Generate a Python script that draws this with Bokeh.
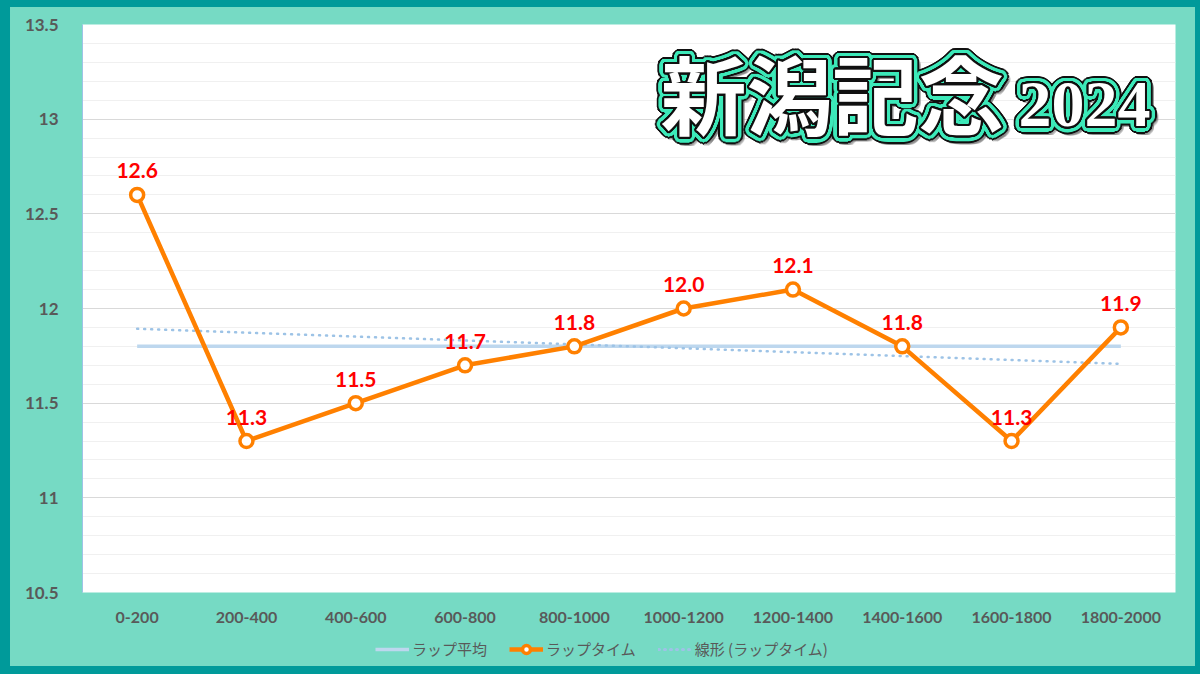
import numpy as np
from bokeh.plotting import figure
from bokeh.layouts import column
from bokeh.models import ColumnDataSource, FactorRange, FixedTicker, Legend, LegendItem, Range1d
from bokeh.core.properties import value
from bokeh.embed import file_html
from bokeh.resources import INLINE

# --- data ---
sections = ["0-200", "200-400", "400-600", "600-800", "800-1000",
            "1000-1200", "1200-1400", "1400-1600", "1600-1800", "1800-2000"]
lap_times = [12.6, 11.3, 11.5, 11.7, 11.8, 12.0, 12.1, 11.8, 11.3, 11.9]
y_ticks = [10.5, 11, 11.5, 12, 12.5, 13, 13.5]
series_names = ["ラップ平均", "ラップタイム", "線形 (ラップタイム)"]
title_main = "新潟記念"
title_year = "2024"

# average and linear trend, the way the spreadsheet derives them
lap_avg = float(np.mean(lap_times))
slope, intercept = np.polyfit(np.arange(len(lap_times)), lap_times, 1)
trend_ends = [intercept, intercept + slope * (len(lap_times) - 1)]

TEAL_LIGHT = "#76DAC4"
TEAL_DARK = "#009A9A"
GREY_TXT = "#595959"

AVG_STYLE = dict(line_color="#BDD7EE", line_width=3.5)
TREND_STYLE = dict(line_color="#9DC3E6", line_width=2.5, line_dash="1 6", line_cap="round")
LAP_STYLE = dict(line_color="#FF8000", line_width=4.5, line_join="round")
PT_STYLE = dict(size=13, fill_color="white", line_color="#FF8000", line_width=3.5)

# figures are border-box: the dark frame eats into width/height
p = figure(width=1200, height=630,
           x_range=FactorRange(factors=sections, range_padding=0),
           y_range=(10.5, 13.5),
           output_backend="svg", toolbar_location=None,
           min_border_left=72, min_border_right=35,
           min_border_top=17, min_border_bottom=45,
           background_fill_color="white", border_fill_color=TEAL_LIGHT,
           outline_line_color=None)
p.styles = {"border-style": "solid", "border-color": TEAL_DARK,
            "border-width": "7px 5px 0px 10px", "background-color": TEAL_LIGHT}

# axes / grid
p.yaxis.ticker = FixedTicker(ticks=y_ticks,
                             minor_ticks=[round(10.5 + 0.1 * i, 2) for i in range(31)])
p.yaxis.major_label_overrides = {t: f"{t:g}" for t in y_ticks}
p.yaxis.axis_line_color = "#9DC3E6"
p.xaxis.axis_line_color = None
for ax in (p.xaxis, p.yaxis):
    ax.major_tick_line_color = None
    ax.minor_tick_line_color = None
    ax.major_label_text_color = GREY_TXT
    ax.major_label_text_font = "Lato"
    ax.major_label_text_font_style = "bold"
p.yaxis.major_label_text_font_size = "17px"
p.yaxis.major_label_standoff = 18
p.xaxis.major_label_text_font_size = "16px"
p.xaxis.major_label_standoff = 13
p.xgrid.grid_line_color = None
p.ygrid.grid_line_color = "#D9D9D9"
p.ygrid.minor_grid_line_color = "#F0F0F0"

# series
p.line(x=[sections[0], sections[-1]], y=[lap_avg, lap_avg], **AVG_STYLE)
p.line(x=[sections[0], sections[-1]], y=trend_ends, **TREND_STYLE)
p.line(sections, lap_times, **LAP_STYLE)
p.scatter(sections, lap_times, **PT_STYLE)
p.text(x=sections, y=lap_times, text=[f"{v:.1f}" for v in lap_times],
       y_offset=-24, text_align="center", text_baseline="middle",
       text_color="#FF0000", text_font=value("Lato"), text_font_style="bold",
       text_font_size="21px")


# title: layered copies give the outlined, glowing lettering
def title_layer(txt, x0, y0, font, size, baseline, color, radius, alpha=1.0, shift=(0, 0)):
    n = 1 if radius == 0 else 32
    ang = np.linspace(0, 2 * np.pi, n, endpoint=False)
    src = ColumnDataSource(dict(
        x=[0.0] * n, y=[13.5] * n,
        xo=list(x0 + shift[0] + radius * np.cos(ang)),
        yo=list(y0 + shift[1] + radius * np.sin(ang)),
        t=[txt] * n))
    p.text(x="x", y="y", text="t", x_offset="xo", y_offset="yo", source=src,
           text_align="left", text_baseline=baseline, text_color=color, text_alpha=alpha,
           text_font=value(font), text_font_style="bold", text_font_size=size)


for txt, x0, y0, font, size, base in [
        (title_main, 578, 67, "Noto Sans CJK JP", "86px", "middle"),
        (title_year, 936, 80, "Liberation Serif", "66px", "alphabetic")]:
    title_layer(txt, x0, y0, font, size, base, "#7A7A7A", 6, alpha=0.3, shift=(3, 3))
    title_layer(txt, x0, y0, font, size, base, "#111111", 7.5)
    title_layer(txt, x0, y0, font, size, base, "#3DE9B9", 5.5)
    title_layer(txt, x0, y0, font, size, base, "#111111", 2)
    title_layer(txt, x0, y0, font, size, base, "white", 0)

# legend strip under the chart (a side-panel legend would squash the frame);
# its key glyphs are proxies that sit off-range
lg = figure(width=1200, height=44, x_range=Range1d(0, 1), y_range=Range1d(0, 1),
            output_backend="svg", toolbar_location=None,
            x_axis_location=None, y_axis_location=None,
            min_border_left=0, min_border_right=10, min_border_top=0, min_border_bottom=0,
            background_fill_alpha=0, border_fill_alpha=0,
            outline_line_color=None)
lg.grid.grid_line_color = None
lg.styles = {"border-style": "solid", "border-color": TEAL_DARK,
             "border-width": "0px 5px 8px 10px", "background-color": TEAL_LIGHT}
off = dict(x=[-5, -4], y=[-5, -4])
k_avg = lg.line(**off, **AVG_STYLE)
k_lap = lg.line(**off, **LAP_STYLE)
k_pt = lg.scatter(**off, **PT_STYLE)
k_trend = lg.line(**off, line_color="#9DC3E6", line_width=3, line_dash="1 5", line_cap="round")

legend = Legend(items=[
    LegendItem(label=series_names[0], renderers=[k_avg]),
    LegendItem(label=series_names[1], renderers=[k_lap, k_pt]),
    LegendItem(label=series_names[2], renderers=[k_trend]),
], orientation="horizontal", location=(291, 13))
legend.label_text_font = "Noto Sans CJK JP"
legend.label_text_font_size = "15px"
legend.label_text_color = GREY_TXT
legend.glyph_width = 34
legend.label_standoff = 3
legend.spacing = 22
legend.background_fill_alpha = 0
legend.border_line_alpha = 0
legend.padding = 2
legend.margin = 0
lg.add_layout(legend)

page = column(p, lg, spacing=0, styles={"background-color": TEAL_LIGHT})
open("out.html", "w").write(file_html(page, INLINE))
